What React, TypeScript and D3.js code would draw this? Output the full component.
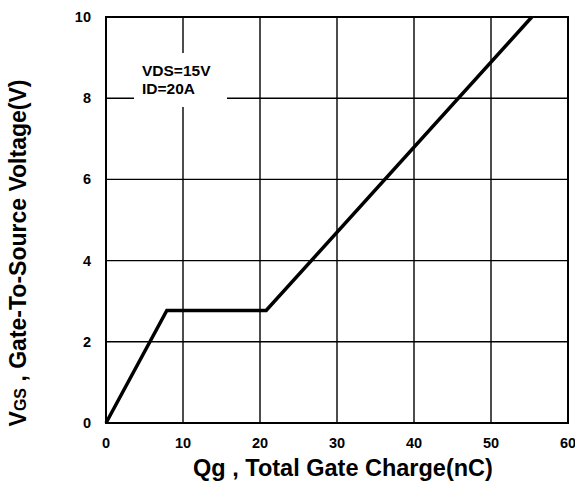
import React from "react";
import * as d3 from "d3";

const qg = [0, 7.9, 20.8, 55.3];
const vgs = [0, 2.77, 2.77, 10];
const xTicks = [0, 10, 20, 30, 40, 50, 60];
const yTicks = [0, 2, 4, 6, 8, 10];
const legendLines = ["VDS=15V", "ID=20A"];

export default function App() {
  const W = 575, H = 485;
  const L = 106, R = 568, T = 17, B = 423;
  const x = d3.scaleLinear().domain([0, 60]).range([L, R]);
  const y = d3.scaleLinear().domain([0, 10]).range([B, T]);
  const line = d3.line<number>().x((_, i) => x(qg[i])).y((d) => y(d));
  const font = "'Liberation Sans', Arial, sans-serif";
  return (
    <svg width={W} height={H} style={{ position: "absolute", left: 0, top: 0, background: "#fff" }} fontFamily={font}>
      <rect x={0} y={0} width={W} height={H} fill="#fff" />
      {xTicks.map((t) => (
        <line key={"gx" + t} x1={x(t)} x2={x(t)} y1={T} y2={B} stroke="#000" strokeWidth={1.4} />
      ))}
      {yTicks.map((t) => (
        <line key={"gy" + t} x1={L} x2={R} y1={y(t)} y2={y(t)} stroke="#000" strokeWidth={1.4} />
      ))}
      <rect x={134} y={53} width={93} height={54} fill="#fff" />
      {legendLines.map((s, i) => (
        <text key={s} x={142} y={76 + i * 18} fontSize={15.5} fontWeight="bold" fill="#000">{s}</text>
      ))}
      <rect x={L} y={T} width={R - L} height={B - T} fill="none" stroke="#000" strokeWidth={2} />
      <path d={line(vgs) || ""} fill="none" stroke="#000" strokeWidth={3.5} strokeLinejoin="miter" />
      {xTicks.map((t) => (
        <text key={"tx" + t} x={x(t)} y={447.5} textAnchor="middle" fontSize={14.5} fontWeight="bold">{t}</text>
      ))}
      {yTicks.map((t) => (
        <text key={"ty" + t} x={91} y={y(t) + 5} textAnchor="end" fontSize={14.5} fontWeight="bold">{t}</text>
      ))}
      <text x={343} y={476} textAnchor="middle" fontSize={23.5} fontWeight="bold">Qg , Total Gate Charge(nC)</text>
      <text transform="translate(26,253) rotate(-90)" textAnchor="middle" fontSize={23} fontWeight="bold">
        V<tspan fontSize={16}>GS</tspan> ,  Gate-To-Source Voltage(V)
      </text>
    </svg>
  );
}
